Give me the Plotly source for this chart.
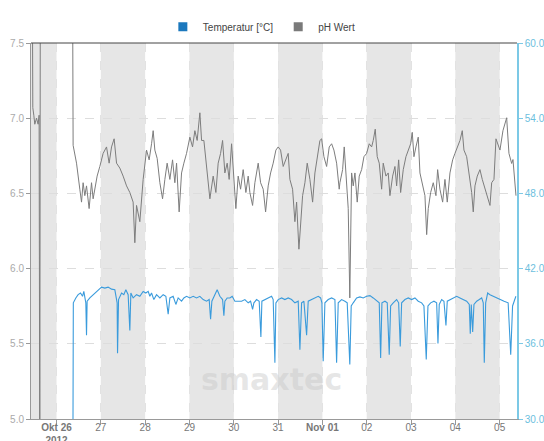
import pandas as pd
import plotly.graph_objects as go

BASE = pd.Timestamp("2012-10-26 00:00")

# pH series: hours relative to 2012-10-26 00:00, values
ph_hours = [-13.11, -12.84, -12.30, -11.76, -10.84, -9.97, -9.43, -9.05, -8.78, 8.67,
            8.99, 10.84, 11.70, 12.62, 13.55, 14.41, 15.33, 16.25, 17.66, 18.96, 19.83, 20.75,
            22.0, 23.46, 25.25, 27.09, 28.50, 29.80, 31.21, 32.51, 34.30, 36.08, 37.93, 39.71,
            41.50, 42.42, 43.34, 45.13, 46.05, 46.92, 48.76, 50.17, 51.47, 52.34, 53.26, 54.51,
            55.97, 57.43, 58.68, 59.92, 61.39, 62.85, 64.09, 65.02, 66.42, 67.72, 68.97, 70.43,
            72.22, 73.68, 74.93, 76.18, 77.64, 78.56, 79.81, 81.27, 82.14, 83.06, 84.85, 86.31,
            87.55, 88.86, 89.94, 91.18, 92.43, 93.51, 94.82, 95.68, 97.14, 98.39, 99.69, 101.10,
            102.56, 103.81, 104.73, 106.19, 107.44, 109.23, 110.53, 111.94, 113.24, 114.65,
            115.95, 117.35, 118.82, 120.06, 121.36, 122.77, 124.23, 125.48, 126.40, 127.86,
            129.11, 130.03, 131.28, 132.20, 133.28, 134.53, 135.78, 137.24, 138.70, 139.95,
            141.19, 142.66, 143.58, 144.82, 146.29, 147.70, 149.0, 150.24, 151.70, 153.11,
            153.49, 154.95, 155.82, 156.74, 157.99, 158.85, 159.83, 160.70, 161.62, 162.86,
            163.95, 165.25, 166.50, 167.96, 169.37, 170.67, 171.54, 172.62, 173.70, 174.79,
            176.09, 176.95, 178.41, 179.66, 180.58, 182.04, 183.29, 184.21, 185.30, 186.38,
            187.79, 189.25, 190.50, 191.80, 192.67, 193.58, 194.67, 195.91, 196.83, 198.30,
            199.54, 200.47, 201.33, 202.63, 204.04, 205.50, 206.42, 207.67, 209.13, 210.38,
            211.63, 213.09, 214.55, 215.80, 217.05, 218.51, 219.76, 220.67, 222.14, 223.55,
            224.85, 225.71, 226.63, 227.88, 229.34, 230.59, 232.04, 233.29, 234.76, 235.68,
            236.92, 238.01, 240.17, 241.79, 243.80, 245.04, 246.51, 247.21, 248.84]
ph_values = [8.0, 7.07, 7.02, 6.96, 7.00, 6.96, 7.02, 4.6, 8.0, 8.0,
             6.820, 6.701, 6.593, 6.528, 6.442, 6.571, 6.485, 6.550, 6.399, 6.571, 6.464, 6.528,
             6.615, 6.679, 6.766, 6.809, 6.701, 6.809, 6.863, 6.701, 6.668, 6.615, 6.550, 6.506,
             6.442, 6.172, 6.420, 6.312, 6.485, 6.593, 6.788, 6.723, 6.830, 6.917, 6.788, 6.733,
             6.571, 6.464, 6.593, 6.701, 6.593, 6.723, 6.571, 6.701, 6.377, 6.636, 6.701, 6.766,
             6.874, 6.809, 6.917, 6.852, 7.036, 6.852, 6.852, 6.658, 6.550, 6.464, 6.615, 6.506,
             6.701, 6.766, 6.852, 6.636, 6.701, 6.593, 6.830, 6.679, 6.399, 6.615, 6.528, 6.658,
             6.506, 6.615, 6.506, 6.420, 6.571, 6.701, 6.571, 6.528, 6.377, 6.550,
             6.636, 6.701, 6.788, 6.809, 6.788, 6.679, 6.723, 6.766, 6.593, 6.528,
             6.312, 6.442, 6.129, 6.312, 6.485, 6.571, 6.701, 6.593, 6.442, 6.636,
             6.744, 6.852, 6.863, 6.744, 6.679, 6.809, 6.830, 6.788, 6.701, 6.528,
             6.571, 6.658, 6.809, 6.636, 6.399, 5.805, 6.636, 6.550, 6.636, 6.442,
             6.615, 6.658, 6.744, 6.766, 6.830, 6.809, 6.852, 6.927, 6.744, 6.701,
             6.528, 6.701, 6.615, 6.636, 6.485, 6.615, 6.679, 6.550, 6.723, 6.506,
             6.658, 6.744, 6.788, 6.830, 6.906, 6.744, 6.809, 6.874, 6.636, 6.550,
             6.485, 6.226, 6.399, 6.506, 6.571, 6.485, 6.658, 6.528, 6.442, 6.593,
             6.442, 6.636, 6.723, 6.766, 6.809, 6.852, 6.917, 6.788, 6.744, 6.636,
             6.506, 6.377, 6.550, 6.615, 6.658, 6.593, 6.528, 6.485, 6.420, 6.571,
             6.593, 6.863, 6.788, 6.917, 7.003, 6.766, 6.699, 6.725, 6.485]

# Temperature series: hours relative to 2012-10-26 00:00, values in °C
temp_hours = [8.83, 9.10, 10.46, 11.70, 13.00, 14.09, 14.79, 15.87, 16.25, 16.58, 18.04,
              19.83, 21.67, 23.08, 24.38, 26.17, 27.96, 29.80, 31.59, 32.83, 33.05, 33.59,
              35.22, 36.46, 37.55, 38.79, 39.71, 40.26, 41.50, 43.34, 45.13, 46.92, 48.38,
              49.63, 50.55, 51.47, 52.72, 54.18, 55.97, 57.76, 59.22, 60.47, 61.39, 63.17,
              64.64, 65.88, 67.72, 68.97, 70.43, 72.22, 74.01, 75.85, 77.64, 79.43, 81.27,
              82.68, 83.44, 84.14, 85.77, 87.01, 88.48, 89.94, 90.64, 91.18, 92.43, 93.89,
              95.14, 96.60, 98.39, 100.23, 102.02, 103.81, 105.11, 106.19, 106.90, 108.36,
              109.77, 110.69, 111.23, 112.86, 114.65, 116.49, 117.35, 118.27, 118.82, 120.06,
              121.91, 123.69, 125.48, 127.32, 129.11, 130.90, 131.82, 132.74, 133.99, 135.45,
              136.32, 138.16, 139.95, 141.74, 143.04, 143.74, 144.44, 145.36, 147.15, 148.99,
              150.78, 151.70, 152.57, 154.41, 156.20, 157.44, 158.85, 159.61, 160.70, 162.54,
              164.33, 166.12, 167.96, 169.75, 171.54, 173.38, 174.79, 175.54, 176.25, 177.87,
              179.12, 180.20, 180.96, 182.37, 184.21, 185.30, 186.16, 186.92, 188.71, 190.50,
              192.34, 194.13, 195.91, 197.76, 199.0, 200.25, 201.17, 202.63, 204.42, 205.88,
              206.59, 207.29, 208.59, 209.84, 210.92, 211.63, 213.47, 214.88, 216.72, 218.51,
              220.30, 222.14, 223.55, 224.09, 224.63, 225.39, 226.09, 227.56, 228.97, 230.27,
              231.13, 231.68, 232.43, 233.51, 234.76, 236.55, 238.39, 239.80, 242.4, 244.6,
              246.0, 247.0, 248.8]
temp_values = [25.0, 39.27, 39.66, 39.92, 40.05, 39.79, 40.18, 39.27, 36.68, 39.40, 39.66,
               39.92, 40.18, 40.31, 40.52, 40.44, 40.52, 40.36, 40.31, 39.27, 35.25, 39.53,
               40.05, 39.92, 40.31, 39.92, 37.07, 40.05, 39.66, 39.92, 39.79, 40.18, 40.05,
               40.18, 39.79, 40.05, 39.53, 39.92, 39.66, 39.92, 39.79, 38.36, 39.66, 39.79,
               39.14, 39.66, 39.40, 39.66, 39.79, 39.66, 39.79, 39.66, 39.79, 39.53, 39.40,
               39.53, 37.97, 39.40, 39.92, 40.31, 39.79, 39.53, 38.24, 39.40, 39.66, 39.66,
               39.79, 39.40, 39.40, 39.40, 39.53, 39.27, 39.40, 38.75, 39.27, 39.53,
               39.40, 36.55, 39.40, 39.53, 39.66, 39.79, 39.53, 34.48, 39.27, 39.53,
               39.66, 39.53, 39.66, 39.53, 39.27, 39.40, 35.52, 39.27, 39.40, 36.68,
               39.40, 39.53, 39.66, 39.79, 39.66, 39.27, 34.61, 39.27, 39.53, 39.66,
               39.53, 34.48, 39.27, 39.53, 39.40, 39.27, 34.35, 39.02, 39.27, 39.66,
               39.74, 39.66, 39.79, 39.84, 39.66, 39.40, 39.27, 34.87, 39.27, 39.40,
               39.27, 35.13, 39.02, 39.27, 39.53, 39.27, 35.78, 39.27, 39.53, 39.66,
               39.53, 39.66, 39.40, 39.27, 39.02, 34.74, 39.02, 39.27, 39.40, 39.27,
               36.03, 39.14, 39.53, 39.40, 37.46, 39.40, 39.53, 39.66, 39.79, 39.66,
               39.53, 39.40, 39.14, 36.81, 39.14, 36.94, 39.14, 39.40, 39.53, 39.66,
               39.27, 34.48, 39.27, 40.05, 39.92, 39.79, 39.66, 39.53, 39.40, 39.27,
               35.13, 39.02, 39.79]

# x-axis ticks
tick_dates = ["2012-10-26", "2012-10-27", "2012-10-28", "2012-10-29", "2012-10-30",
              "2012-10-31", "2012-11-01", "2012-11-02", "2012-11-03", "2012-11-04", "2012-11-05"]
tick_labels = ["<b>Okt 26</b><br><b>2012</b>", "27", "28", "29", "30", "31",
               "<b>Nov 01</b>", "02", "03", "04", "05"]
# shaded alternating days (start dates)
band_starts = ["2012-10-25", "2012-10-27", "2012-10-29", "2012-10-31", "2012-11-02", "2012-11-04"]
x_range_hours = [-13.82, 249.4]

ph_x = BASE + pd.to_timedelta(ph_hours, unit="h")
temp_x = BASE + pd.to_timedelta(temp_hours, unit="h")
x_range = [BASE + pd.Timedelta(hours=h) for h in x_range_hours]

PH_COLOR = "#7d7d7d"
TEMP_COLOR = "#3a9bdc"

fig = go.Figure()
fig.add_trace(go.Scatter(x=ph_x, y=ph_values, mode="lines", yaxis="y",
                         line=dict(color=PH_COLOR, width=1), showlegend=False, name="pH Wert"))
fig.add_trace(go.Scatter(x=temp_x, y=temp_values, mode="lines", yaxis="y2",
                         line=dict(color=TEMP_COLOR, width=1.1), showlegend=False,
                         name="Temperatur [°C]"))
# legend entries with square symbols
fig.add_trace(go.Scatter(x=[None], y=[None], mode="markers", name="Temperatur [°C]",
                         marker=dict(symbol="square", size=9, color="#1b78bd")))
fig.add_trace(go.Scatter(x=[None], y=[None], mode="markers", name="pH Wert",
                         marker=dict(symbol="square", size=9, color="#7a7a7a")))

shapes = []
for s in band_starts:
    d0 = pd.Timestamp(s)
    shapes.append(dict(type="rect", xref="x", yref="paper", x0=d0, x1=d0 + pd.Timedelta(days=1),
                       y0=0, y1=1, fillcolor="#e6e6e6", line=dict(width=0), layer="between"))
shapes.append(dict(type="line", xref="paper", yref="paper", x0=0, x1=1, y0=1, y1=1,
                   line=dict(color="#444444", width=1), layer="above"))

fig.update_layout(
    width=544, height=441,
    margin=dict(l=31, r=27, t=33, b=22),
    paper_bgcolor="white", plot_bgcolor="white",
    font=dict(family="Liberation Sans, Arial, sans-serif", size=10, color="#999999"),
    shapes=shapes,
    legend=dict(orientation="h", x=0.475, xanchor="center", y=1.043, yanchor="middle",
                font=dict(size=10, color="#444444"), itemwidth=30,
                bgcolor="rgba(0,0,0,0)"),
    xaxis=dict(type="date", range=x_range, tickvals=[pd.Timestamp(d) for d in tick_dates],
               ticktext=tick_labels, showgrid=True, gridcolor="#e2e2e2", griddash="dash",
               gridwidth=1, showline=True, linecolor="#999999", linewidth=1,
               ticks="outside", ticklen=5, tickcolor="#999999", ticklabelstandoff=-6,
               tickfont=dict(size=10, color="#777777"), zeroline=False, automargin=False),
    yaxis=dict(range=[5.0, 7.5], tickvals=[5.0, 5.5, 6.0, 6.5, 7.0, 7.5], tickformat=".1f",
               showgrid=True, gridcolor="#dddddd", griddash="dash", gridwidth=1,
               showline=True, linecolor="#999999", linewidth=1, ticks="outside", ticklen=4,
               tickcolor="#999999", tickfont=dict(size=10, color="#aaaaaa"),
               zeroline=False, automargin=False),
    yaxis2=dict(range=[30, 60], tickvals=[30, 36, 42, 48, 54, 60], tickformat=".1f",
                overlaying="y", side="right", showgrid=False, showline=True,
                linecolor="#7cc9e6", linewidth=1.5, ticks="outside", ticklen=4,
                tickcolor="#7cc9e6", tickfont=dict(size=10, color="#6cc0de"),
                zeroline=False, automargin=False),
    annotations=[dict(text="<b>smaxtec</b>", xref="paper", yref="paper", x=0.494, y=0.105,
                      xanchor="center", yanchor="middle", showarrow=False,
                      font=dict(family="DejaVu Sans", size=30, color="rgba(200,200,200,0.45)"))],
)

fig.write_html("out.html", config={"displayModeBar": False},
               post_script="document.body.style.margin='0';document.body.style.overflow='hidden';")
